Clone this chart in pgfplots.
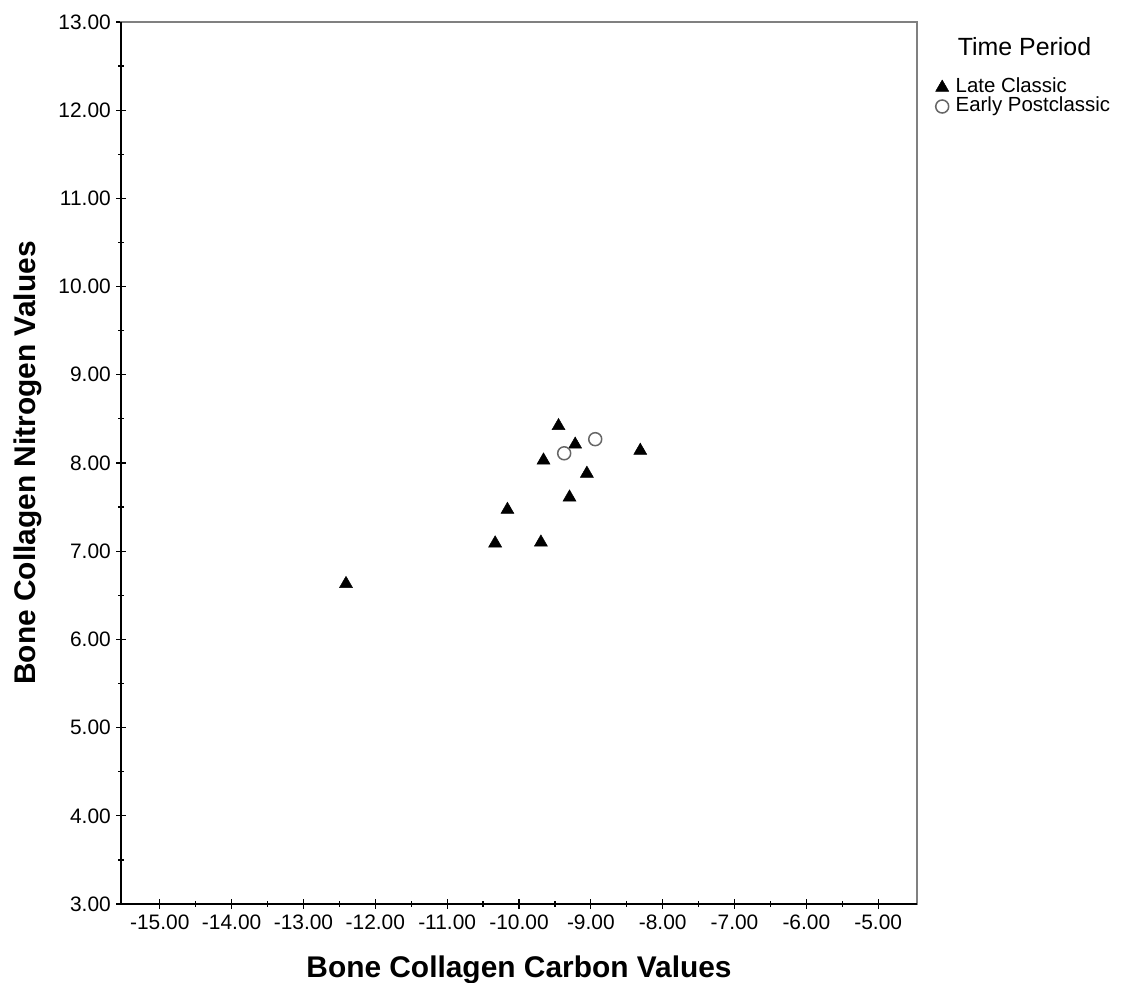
\documentclass[border=0pt]{standalone}
\usepackage{fontspec}
\setmainfont{Liberation Sans}
\usepackage{pgfplots}
\pgfplotsset{compat=1.18}
\begin{document}
\begin{tikzpicture}
\path[use as bounding box] (-121bp,-79bp) rectangle (1003bp,904bp);
\begin{axis}[
  at={(0,0)}, anchor=south west,
  scale only axis, width=796bp, height=882bp,
  clip=false,
  xmin=-15.54, xmax=-4.46, ymin=3, ymax=13,
  xtick={-15,-14,-13,-12,-11,-10,-9,-8,-7,-6,-5},
  xticklabels={-15.00,-14.00,-13.00,-12.00,-11.00,-10.00,-9.00,-8.00,-7.00,-6.00,-5.00},
  ytick={3,4,5,6,7,8,9,10,11,12,13},
  yticklabels={3.00,4.00,5.00,6.00,7.00,8.00,9.00,10.00,11.00,12.00,13.00},
  minor x tick num=1, minor y tick num=1,
  tick align=center, major tick length=10bp, minor tick length=6bp,
  xtick pos=bottom, ytick pos=left,
  tick style={black, line width=1.2bp},
  axis line style={draw=black!50, line width=1.5bp},
  tick label style={font=\fontsize{21}{24}\selectfont, inner sep=0pt},
  xticklabel style={anchor=base, yshift=-21bp},
  yticklabel style={anchor=east, xshift=-5bp},
  xlabel={Bone Collagen Carbon Values},
  ylabel={Bone Collagen Nitrogen Values},
  every axis x label/.style={at={(axis description cs:0.5,-0.0828)}, anchor=base, font=\bfseries\fontsize{30}{34}\selectfont},
  every axis y label/.style={at={(axis description cs:-0.108,0.5)}, rotate=90, anchor=base, font=\bfseries\fontsize{30}{34}\selectfont},
  legend style={at={(axis description cs:1.0235,0.9365)}, anchor=north west,
    draw=none, fill=none, inner sep=0pt, outer sep=0pt,
    font=\fontsize{20.5}{24}\selectfont,
    nodes={inner sep=0pt, text height=14.5bp, text depth=4.5bp},
    row sep=0pt, column sep=7bp},
  legend cell align=left,
  legend image code/.code={\draw[mark repeat=2,mark phase=2,#1] plot coordinates {(0bp,0bp) (7bp,0bp) (14bp,0bp)};},
]
\addplot[only marks, mark=triangle*, mark size=7.5bp, mark options={fill=black, draw=black, line width=0.5bp}] table {
x y
-9.450 8.42
-9.218 8.21
-9.659 8.03
-8.312 8.14
-9.055 7.88
-9.297 7.61
-10.161 7.47
-10.332 7.09
-9.695 7.10
-12.408 6.63
};
\addlegendentry{Late Classic}
\addplot[only marks, mark=*, mark size=6.5bp, mark options={fill=white, draw=black!60, line width=1.5bp}] table {
x y
-9.371 8.11
-8.939 8.27
};
\addlegendentry{Early Postclassic}
\draw[black, line width=1.8bp] (rel axis cs:0,1) -- (rel axis cs:0,0) -- (rel axis cs:1,0);
\node[anchor=base west, inner sep=0pt, font=\fontsize{25}{28}\selectfont] at (axis description cs:1.0511,0.9618) {Time Period};
\end{axis}
\end{tikzpicture}
\end{document}
